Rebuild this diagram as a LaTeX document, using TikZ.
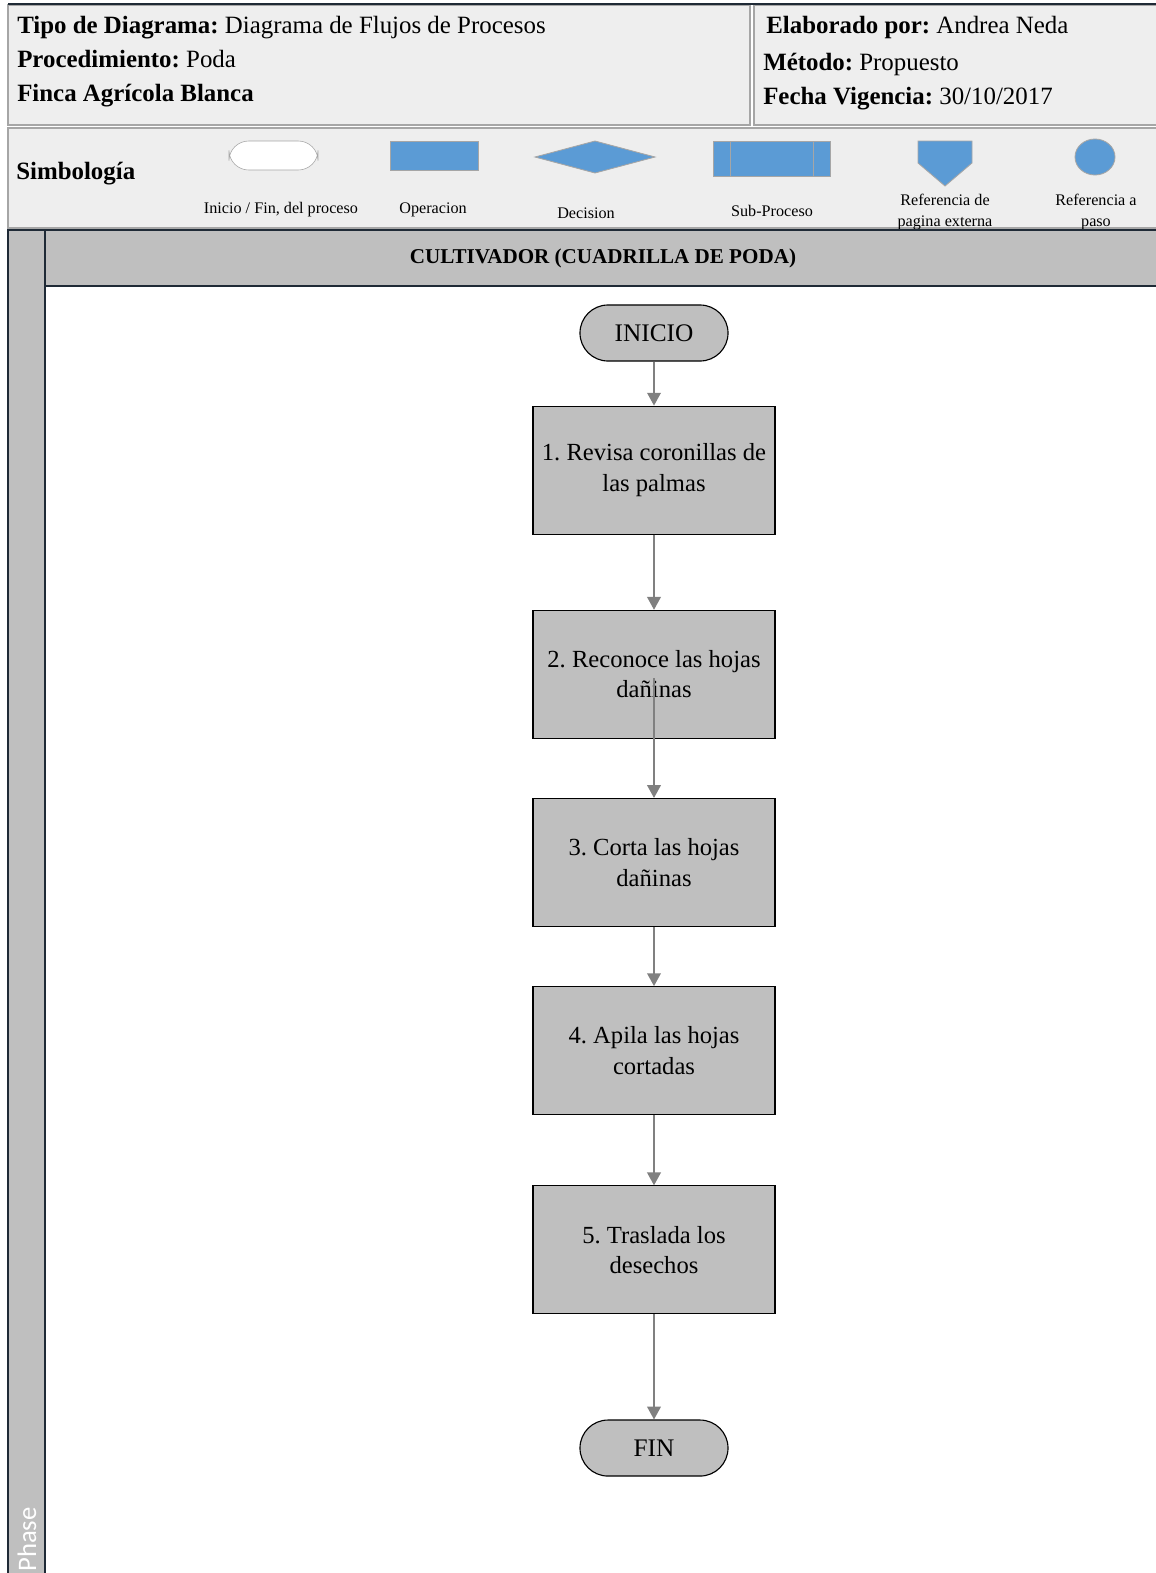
\documentclass[tikz,border=0pt]{standalone}
\usepackage{fontspec}
\setmainfont{Liberation Serif}
\setsansfont{Carlito}
\usetikzlibrary{
  arrows.meta,
  positioning,
  shapes.geometric,
  calc
}
\definecolor{pdGray}{HTML}{BFBFBF}
\definecolor{pdPanel}{HTML}{EEEEEE}
\definecolor{pdBorder}{HTML}{A6A6A6}
\definecolor{pdBlue}{HTML}{5B9BD5}
\definecolor{pdArrow}{HTML}{808080}
\definecolor{pdDark}{HTML}{1F2A36}
\tikzset{
  panel/.style={draw=pdBorder, line width=2pt, fill=pdPanel},
  hdrtext/.style={anchor=west, inner sep=0pt, font=\fontsize{17.7}{20}\selectfont},
  symb/.style={fill=pdBlue, draw=pdBorder, line width=0.6pt},
  symlabel/.style={inner sep=0pt, align=center, font=\fontsize{11.5}{15}\selectfont},
  lane/.style={draw=pdDark, fill=pdGray, line width=1.2pt},
  terminal/.style={
    draw=black, fill=pdGray, rounded corners=0.7cm, line width=0.8pt,
    minimum width=3.7cm, minimum height=1.4cm, font=\fontsize{18}{20}\selectfont
  },
  activity/.style={
    draw=black, fill=pdGray, line width=0.8pt, minimum width=6.05cm,
    minimum height=3.2cm, align=center,
    font=\fontsize{17.5}{21.5}\selectfont
  },
  flow/.style={-{Triangle[length=3.2mm, width=3.4mm]}, pdArrow, line width=1.2pt}
}

\begin{document}
\frenchspacing
\begin{tikzpicture}[x=0.025cm, y=-0.025cm]
  \useasboundingbox (0,0) rectangle (1156,1573);
  \clip (0,0) rectangle (1156,1573);

  % encabezado
  \draw[panel] (8,5) rectangle (750,125);
  \draw[panel] (754,5) rectangle (1162,125);
  \draw[pdDark, line width=1.5pt] (8,4) -- (1156,4);
  \node[hdrtext] (tipo) at (17,28) {\textbf{Tipo de Diagrama:} Diagrama de Flujos de Procesos};
  \node[hdrtext] (proc) at (17,59) {\textbf{Procedimiento:} Poda};
  \node[hdrtext] (finca) at (17,96) {\textbf{Finca Agrícola Blanca}};
  \node[hdrtext] (elab) at (766,28) {\textbf{Elaborado por:} Andrea Neda};
  \node[hdrtext] (metodo) at (763,64) {\textbf{Método:} Propuesto};
  \node[hdrtext] (fecha) at (763,99) {\textbf{Fecha Vigencia:} 30/10/2017};

  % simbologia
  \draw[panel] (8,128) rectangle (1162,228);
  \node[hdrtext] (simb) at (16,174) {\textbf{Simbología}};
  \draw[draw=pdBorder, fill=white, rounded corners=14pt] (229,141) rectangle (318,170);
  \draw[symb] (390,141) rectangle (478,170);
  \draw[symb] (535,157) -- (595,141) -- (655,157) -- (595,173) -- cycle;
  \draw[symb] (713,141) rectangle (830,176);
  \draw[pdBorder] (730,141) -- (730,176) (813,141) -- (813,176);
  \draw[symb] (918,141) -- (972,141) -- (972,163) -- (945,186) -- (918,163) -- cycle;
  \draw[symb] (1095,157) ellipse (20 and 18);
  \node[symlabel] (l1) at (281,210) {Inicio / Fin, del proceso};
  \node[symlabel] (l2) at (433,210) {Operacion};
  \node[symlabel] (l3) at (586,213) {Decision};
  \node[symlabel] (l4) at (772,211) {Sub-Proceso};
  \node[symlabel] (l5) at (945,212) {Referencia de\\pagina externa};
  \node[symlabel] (l6) at (1096,212) {Referencia a\\paso};

  % carril
  \fill[white] (45,286) rectangle (1160,1580);
  \draw[lane] (8,230) rectangle (45,1580);
  \draw[lane] (45,230) rectangle (1160,286);
  \node[font=\bfseries\fontsize{15}{18}\selectfont] (actor) at (603,258) {CULTIVADOR (CUADRILLA DE PODA)};
  \node[rotate=90, anchor=west, text=white, inner sep=0pt,
    font=\sffamily\fontsize{19}{22}\selectfont] (fase) at (27,1572) {Phase};

  % flujo
  \node[terminal] (ini) at (654,333) {INICIO};
  \node[activity, below=1.1cm of ini] (a1) {1. Revisa coronillas de\\las palmas};
  \node[activity, below=1.875cm of a1] (a2) {2. Reconoce las hojas\\dañinas};
  \node[activity, below=1.475cm of a2] (a3) {3. Corta las hojas\\dañinas};
  \node[activity, below=1.475cm of a3] (a4) {4. Apila las hojas\\cortadas};
  \node[activity, below=1.75cm of a4] (a5) {5. Traslada los\\desechos};
  \node[terminal, below=2.625cm of a5] (fin) {FIN};
  \draw[flow] (ini) -- (a1);
  \draw[flow] (a1) -- (a2);
  \draw[flow] ([yshift=-0.1cm]a2.center) -- (a3);
  \draw[flow] (a3) -- (a4);
  \draw[flow] (a4) -- (a5);
  \draw[flow] (a5) -- (fin);
\end{tikzpicture}
\end{document}
